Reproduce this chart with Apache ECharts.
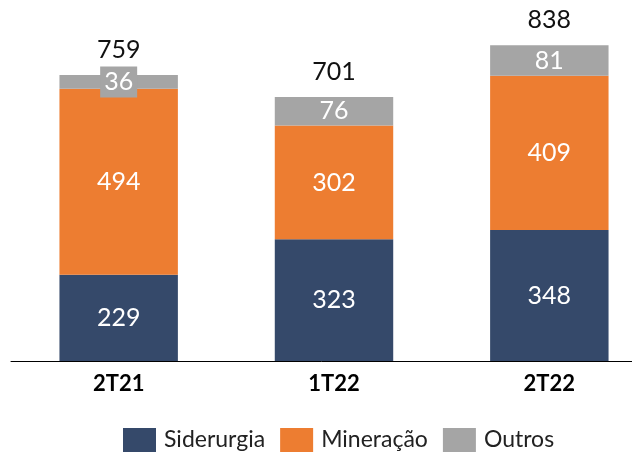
<!DOCTYPE html>
<html>
<head>
<meta charset="utf-8">
<script src="https://cdn.jsdelivr.net/npm/echarts@6/dist/echarts.min.js"></script>
<style>
  html, body { margin: 0; padding: 0; background: #fff; }
  #chart { width: 632px; height: 457px; }
</style>
</head>
<body>
<div id="chart"></div>
<script>
// dados
const categories = ['2T21', '1T22', '2T22'];
const siderurgia = [229, 323, 348];
const mineracao = [494, 302, 409];
const outros = [36, 76, 81];
const totals = categories.map((c, i) => siderurgia[i] + mineracao[i] + outros[i]);

const font = 'Lato, "Open Sans", sans-serif';

const chart = echarts.init(document.getElementById('chart'));

function innerLabel() {
    return {
        show: true,
        position: 'inside',
        color: '#fff',
        fontSize: 25,
        fontFamily: font
    };
}

const option = {
    animation: false,
    // the plot runs past the right edge, like the cropped original
    grid: { left: 11, right: -25, top: 22, bottom: 96, outerBoundsMode: 'none' },
    legend: {
        data: ['Siderurgia', 'Mineração', 'Outros'],
        bottom: 0,
        left: 118,
        itemWidth: 33,
        itemHeight: 24,
        itemGap: 15,
        icon: 'rect',
        textStyle: { fontSize: 23, fontFamily: font, color: '#222', padding: [0, 0, 0, 3] }
    },
    xAxis: {
        type: 'category',
        data: categories,
        axisLine: { lineStyle: { color: '#000', width: 1 } },
        axisTick: { show: false },
        axisLabel: { margin: 12, fontSize: 22, fontWeight: 'bold', fontFamily: font, color: '#000' }
    },
    yAxis: {
        type: 'value',
        min: 0,
        max: 900,
        show: false,
        splitLine: { show: false }
    },
    series: [
        {
            name: 'Siderurgia',
            type: 'bar',
            stack: 'total',
            barWidth: '55%',
            itemStyle: { color: '#35496A' },
            label: innerLabel(),
            data: siderurgia
        },
        {
            name: 'Mineração',
            type: 'bar',
            stack: 'total',
            itemStyle: { color: '#ED7D31' },
            label: innerLabel(),
            data: mineracao
        },
        {
            name: 'Outros',
            type: 'bar',
            stack: 'total',
            itemStyle: { color: '#A5A5A5' },
            label: innerLabel(),
            // a thin segment gets a grey box behind its label
            data: outros.map(v => v < 50
                ? { value: v, label: { backgroundColor: '#A5A5A5', padding: [4, 4, 2, 4] } }
                : v)
        },
        {
            name: 'Total',
            type: 'bar',
            stack: 'total',
            itemStyle: { color: 'transparent' },
            label: {
                show: true,
                position: 'top',
                distance: 13,
                fontSize: 25,
                fontFamily: font,
                color: '#111',
                formatter: p => totals[p.dataIndex]
            },
            data: totals.map(() => 0)
        }
    ]
};

chart.setOption(option);
</script>
</body>
</html>
